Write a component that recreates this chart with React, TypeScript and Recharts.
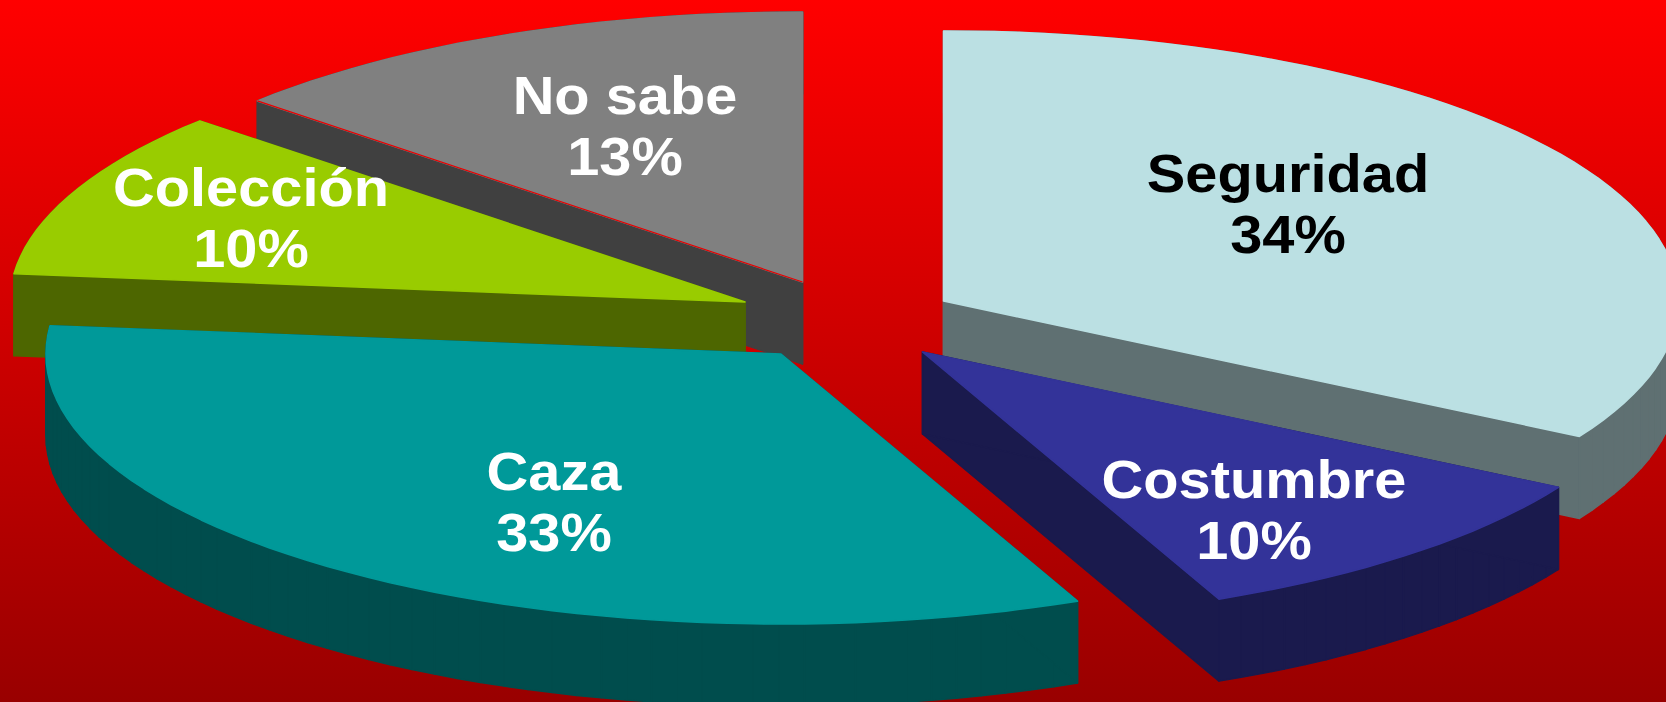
import React from "react";
import { PieChart, Pie } from "recharts";

// Data, in paint order (the pie runs counter-clockwise from the end of "Seguridad").
const categories = ["Seguridad", "No sabe", "Colección", "Caza", "Costumbre"];
const shares = [33.36, 13.3, 10.03, 33.28, 10.03];
const percentLabels = ["34%", "13%", "10%", "33%", "10%"];

// Styles and per-slice layout, keyed by category.
const topColors: Record<string, string> = {
  Seguridad: "#BBE0E3",
  "No sabe": "#808080",
  "Colección": "#99CC00",
  Caza: "#009999",
  Costumbre: "#333399",
};
const wallColors: Record<string, string> = {
  Seguridad: "#5F7072",
  "No sabe": "#404040",
  "Colección": "#4D6600",
  Caza: "#004D4D",
  Costumbre: "#1A1A4D",
};
const labelColors: Record<string, string> = {
  Seguridad: "#000000",
  "No sabe": "#FFFFFF",
  "Colección": "#FFFFFF",
  Caza: "#FFFFFF",
  Costumbre: "#FFFFFF",
};
// Thin background-coloured seam along the closing cut edge of a slice.
const seamColors: Record<string, string> = {
  "No sabe": "#E80000",
};
// Exploded displacement of each slice from the pie centre.
const explode: Record<string, [number, number]> = {
  Seguridad: [83.5, -19],
  "No sabe": [-57.5, -38],
  "Colección": [-115, -18],
  Caza: [-79, 34],
  Costumbre: [62.5, 32],
};
// Label centre (x) and first baseline (y), relative to the pie centre.
const labelOffset: Record<string, [number, number]> = {
  Seguridad: [428, -128],
  "No sabe": [-235, -206],
  "Colección": [-609, -114],
  Caza: [-306, 170],
  Costumbre: [394, 178],
};

const CX = 860;
const CY = 320;
const RADIUS_X = 735;
const SQUASH = 270 / 735;
const DEPTH = 82;
const ARC_STEP = 2;

const tableData = categories.map((name, i) => ({
  name,
  value: shares[i],
  printed: percentLabels[i],
}));

function SliceShape(props: any) {
  const { cx, cy, outerRadius, startAngle, endAngle, name } = props;
  const [ox, oy] = explode[name];
  const ax = cx + ox;
  const ay = cy + oy;
  const pts: [number, number][] = [[ax, ay]];
  const n = Math.max(2, Math.ceil(Math.abs(endAngle - startAngle) / ARC_STEP));
  for (let i = 0; i <= n; i++) {
    const deg = startAngle + ((endAngle - startAngle) * i) / n;
    const rad = (deg * Math.PI) / 180;
    pts.push([
      ax + outerRadius * Math.cos(rad),
      ay - outerRadius * SQUASH * Math.sin(rad),
    ]);
  }
  const toPath = (list: [number, number][]) =>
    "M" + list.map((p) => `${p[0].toFixed(1)},${p[1].toFixed(1)}`).join("L") + "Z";
  const wall = wallColors[name];
  const last = pts[pts.length - 1];
  return (
    <g>
      {pts.map((p, i) => {
        const q = pts[(i + 1) % pts.length];
        return (
          <path
            key={i}
            d={toPath([p, q, [q[0], q[1] + DEPTH], [p[0], p[1] + DEPTH]])}
            fill={wall}
            stroke={wall}
            strokeWidth={1.5}
            strokeLinejoin="round"
          />
        );
      })}
      <path
        d={toPath(pts)}
        fill={topColors[name]}
        stroke={topColors[name]}
        strokeWidth={1.6}
        strokeLinejoin="round"
      />
      {seamColors[name] ? (
        <line x1={ax} y1={ay} x2={last[0]} y2={last[1]} stroke={seamColors[name]} strokeWidth={1.2} />
      ) : null}
    </g>
  );
}

function SliceLabel(props: any) {
  const { cx, cy, name, payload } = props;
  const [dx, dy] = labelOffset[name];
  const common = {
    textAnchor: "middle" as const,
    fontFamily: "'Liberation Sans', Arial, sans-serif",
    fontWeight: 700,
    fontSize: 53,
    fill: labelColors[name],
  };
  return (
    <g transform={`translate(${cx + dx},${cy + dy}) scale(1.09,1)`}>
      <text x={0} y={0} {...common}>{name}</text>
      <text x={0} y={61} {...common}>{payload.printed}</text>
    </g>
  );
}

export default function App() {
  return (
    <div
      style={{
        position: "absolute",
        left: 0,
        top: 0,
        width: 1666,
        height: 702,
        overflow: "hidden",
        background: "linear-gradient(to bottom, #FF0000 0%, #990000 100%)",
      }}
    >
      <PieChart width={1666} height={702} margin={{ top: 0, right: 0, bottom: 0, left: 0 }}>
        <Pie
          data={tableData}
          dataKey="value"
          nameKey="name"
          cx={CX}
          cy={CY}
          innerRadius={0}
          outerRadius={RADIUS_X}
          startAngle={-30.1}
          endAngle={329.9}
          paddingAngle={0}
          stroke="none"
          shape={SliceShape}
          label={SliceLabel}
          labelLine={false}
          isAnimationActive={false}
        />
      </PieChart>
    </div>
  );
}
